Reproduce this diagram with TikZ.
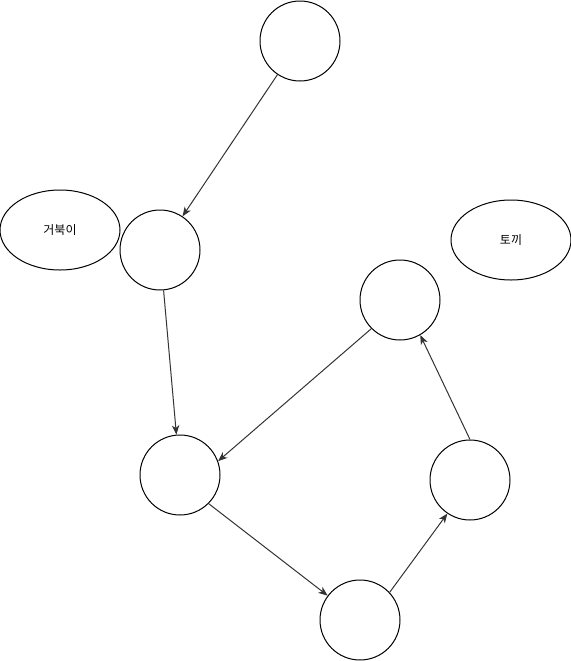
\documentclass[tikz,border=0pt]{standalone}
\usepackage{fontspec}
\newfontfamily\krfont{Noto Sans CJK KR}
\usetikzlibrary{arrows.meta,shapes.geometric}

\begin{document}
\begin{tikzpicture}[x=0.75pt, y=-0.75pt,
    dot/.style={circle, draw, line width=0.75pt, minimum size=60pt, inner sep=0pt},
    blob/.style={ellipse, draw, line width=0.75pt, minimum width=90pt, minimum height=60pt, inner sep=0pt, font=\krfont\fontsize{9pt}{11pt}\selectfont},
    link/.style={-{Stealth[length=7pt,width=5.5pt,inset=2pt]}, black!80, line width=0.75pt}]
  \useasboundingbox (0,0) rectangle (571,661);

  % Circles
  \node[dot] (top) at (300,41) {};
  \node[dot] (mid) at (160,250) {};
  \node[dot] (low) at (180,475) {};
  \node[dot] (bot) at (360,620) {};
  \node[dot] (rgt) at (470,480) {};
  \node[dot] (up)  at (400,300) {};

  % Ellipses with labels
  \node[blob] (turtle) at (60,230) {거북이};
  \node[blob] (rabbit) at (511,240) {토끼};

  % Arrows
  \draw[link] (top) -- (mid);
  \draw[link] (mid) -- (low);
  \draw[link] (up.225) -- (low.20);    % upper right to lower left
  \draw[link] (low.315) -- (bot.143);  % down to the bottom
  \draw[link] (bot.43) -- (rgt.236);   % bottom up to the right
  \draw[link] (rgt.90) -- (up.300);    % back up
\end{tikzpicture}
\end{document}
